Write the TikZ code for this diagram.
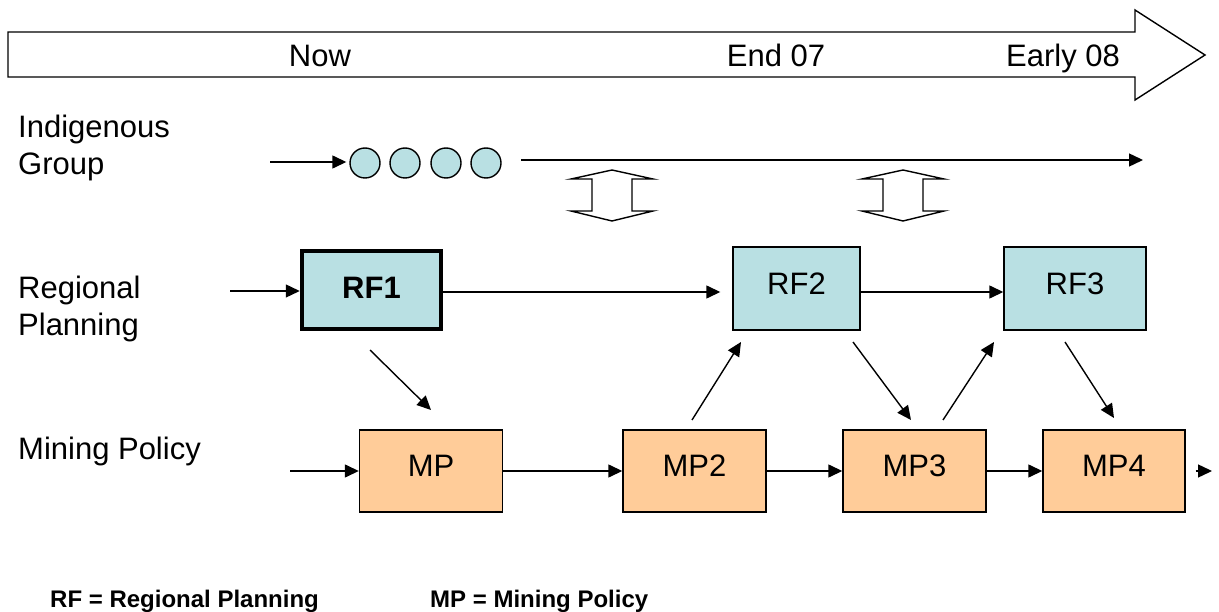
\documentclass[tikz,border=0pt]{standalone}
\usepackage{fontspec}
\setmainfont{Liberation Sans}
\usetikzlibrary{arrows.meta}
\definecolor{rfblue}{RGB}{185,224,227}
\definecolor{mporange}{RGB}{255,204,153}
\begin{document}
\begin{tikzpicture}[x=1pt,y=-1pt,
  lbl/.style={font=\fontsize{31}{37}\selectfont, inner sep=0pt},
  tl/.style={lbl, anchor=base},
  side/.style={lbl, anchor=west, align=left},
  rfbox/.style={draw=black, line width=1.4pt, fill=rfblue, minimum width=127pt, minimum height=83pt, inner sep=0pt, font=\fontsize{31}{37}\selectfont},
  mpbox/.style={draw=black, line width=1.4pt, fill=mporange, minimum width=143pt, minimum height=82pt, inner sep=0pt, font=\fontsize{31}{37}\selectfont},
  dot/.style={circle, draw=black, line width=1.4pt, fill=rfblue, minimum size=30pt, inner sep=0pt},
  conn/.style={line width=1.4pt, -{Triangle[length=14pt,width=13pt]}},
  legend/.style={font=\bfseries\fontsize{24}{28}\selectfont, inner sep=0pt, anchor=base west},
  dbl/.style={line width=1.4pt, fill=white}
]
\useasboundingbox (0,0) rectangle (1219,612);
% timeline arrow
\draw[line width=1.4pt, fill=white] (8,32) -- (1135,32) -- (1135,10) -- (1205,55) -- (1135,100) -- (1135,77) -- (8,77) -- cycle;
\node[tl] (now) at (320,67) {Now};
\node[tl] (end07) at (776,67) {End 07};
\node[tl] (early08) at (1063,67) {Early 08};
% row labels
\node[side] (ig) at (18,148) {Indigenous\\Group};
\node[side] (rp) at (18,309) {Regional\\Planning};
\node[side] (mpl) at (18,451) {Mining Policy};
% indigenous group
\node[dot] (c1) at (365,163) {};
\node[dot] (c2) at (405,163) {};
\node[dot] (c3) at (446,163) {};
\node[dot] (c4) at (486,163) {};
\coordinate (igin) at (270,162);
\coordinate (iga) at (521,160);
\coordinate (igb) at (1143,160);
\draw[conn] (igin) -- ([xshift=-3pt]c1.west |- igin);
\draw[conn] (iga) -- (igb);
% double arrows
\foreach \cx/\nm in {612/da1, 903/da2}{
  \draw[dbl] (\cx-41,179) -- (\cx,170) -- (\cx+41,179) -- (\cx+20,179) -- (\cx+20,211) -- (\cx+41,211) -- (\cx,221) -- (\cx-41,211) -- (\cx-20,211) -- (\cx-20,179) -- cycle;
}
% regional planning
\node[rfbox, line width=4.5pt, minimum width=139pt, minimum height=78pt, font=\bfseries\fontsize{31}{37}\selectfont] (rf1) at (371.5,290) {\raisebox{4pt}{RF1}};
\node[rfbox] (rf2) at (796.5,288.5) {\raisebox{9pt}{RF2}};
\node[rfbox, minimum width=142pt] (rf3) at (1075,288.5) {\raisebox{9pt}{RF3}};
\coordinate (rpin) at (230,291);
\draw[conn] (rpin) -- (rf1.west |- rpin);
\draw[conn] (rf1.east |- 0,292) -- ([xshift=-12pt]rf2.west |- 0,292);
\draw[conn] (rf2.east |- 0,292) -- (rf3.west |- 0,292);
% mining policy
\node[mpbox] (mp1) at (431,471) {\raisebox{10pt}{MP}};
\node[mpbox] (mp2) at (694.5,471) {\raisebox{10pt}{MP2}};
\node[mpbox] (mp3) at (914.5,471) {\raisebox{10pt}{MP3}};
\node[mpbox, minimum width=142pt] (mp4) at (1114,471) {\raisebox{10pt}{MP4}};
\coordinate (mpin) at (290,471);
\coordinate (mpout) at (1212,471);
\draw[conn] (mpin) -- (mp1.west);
\draw[conn] (mp1.east) -- (mp2.west);
\draw[conn] (mp2.east) -- (mp3.west);
\draw[conn] (mp3.east) -- (mp4.west);
\draw[conn] ([xshift=10pt]mp4.east) -- (mpout);
% diagonal arrows
\coordinate (d1a) at (370,350); \coordinate (d1b) at (431,410);
\coordinate (d2a) at (692,420); \coordinate (d2b) at (741,342);
\coordinate (d3a) at (853,342); \coordinate (d3b) at (911,420);
\coordinate (d4a) at (943,420); \coordinate (d4b) at (994,342);
\coordinate (d5a) at (1065,342); \coordinate (d5b) at (1114,418);
\draw[conn] (d1a) -- (d1b);
\draw[conn] (d2a) -- (d2b);
\draw[conn] (d3a) -- (d3b);
\draw[conn] (d4a) -- (d4b);
\draw[conn] (d5a) -- (d5b);
% legend
\node[legend] (leg1) at (50,607) {RF = Regional Planning};
\node[legend] (leg2) at (430,607) {MP = Mining Policy};
\end{tikzpicture}
\end{document}
